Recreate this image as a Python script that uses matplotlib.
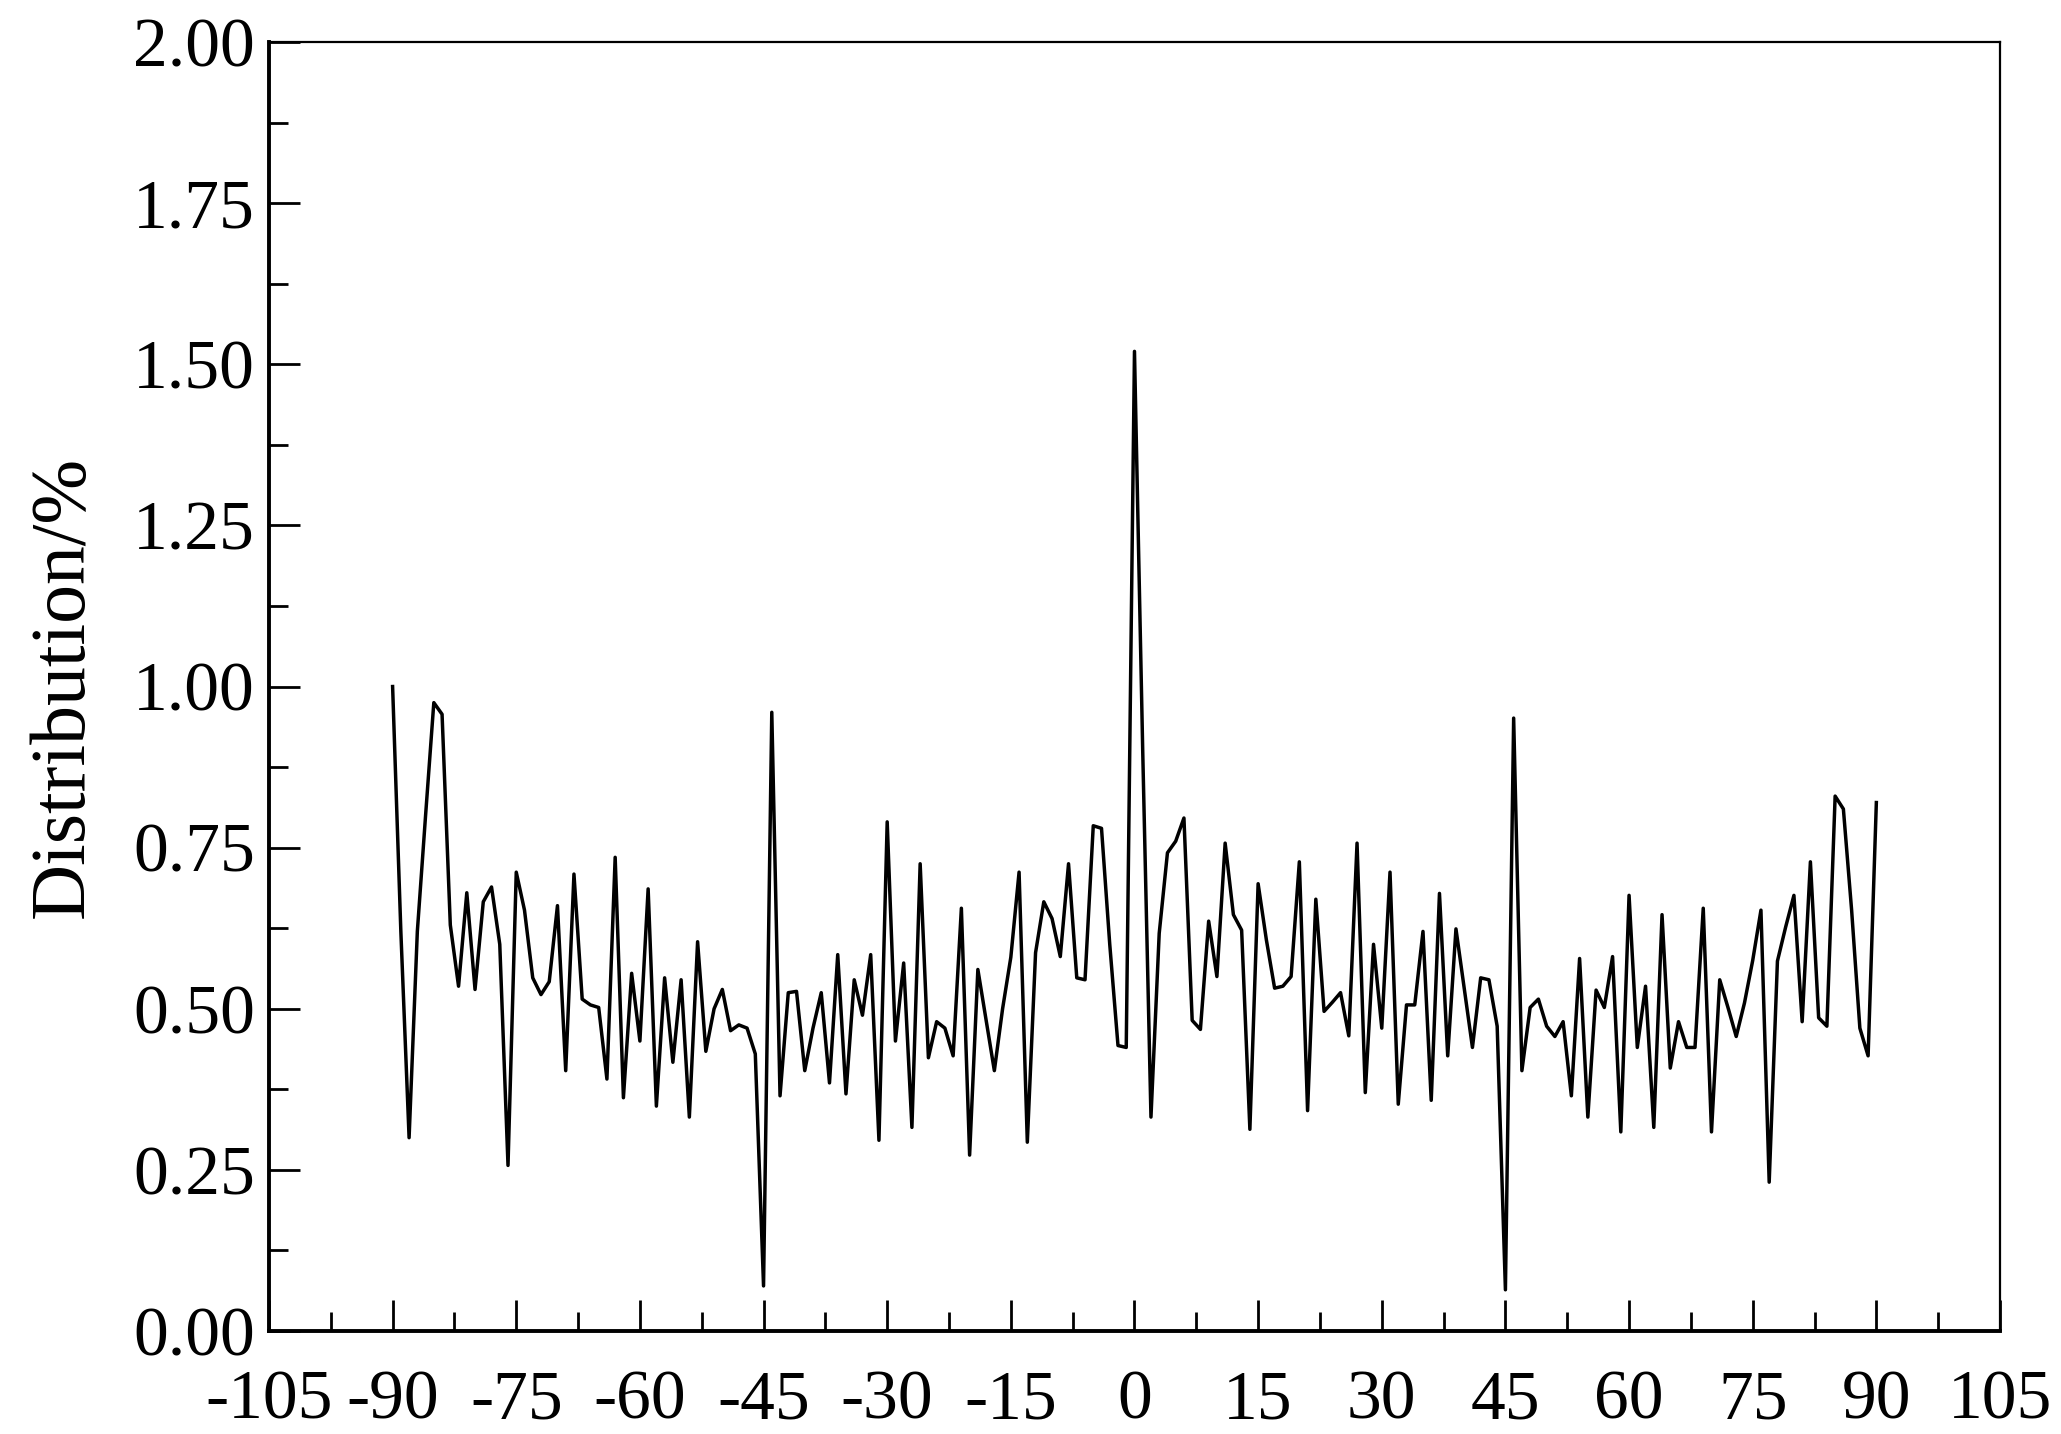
import numpy as np
import matplotlib
matplotlib.use('Agg')
import matplotlib.pyplot as plt
from matplotlib.ticker import MultipleLocator, FormatStrFormatter

# angle bins, one degree apart
angle = np.arange(-90, 91, 1)

# distribution values, -90 .. 90
dist_neg = [
    1.00, 0.62, 0.30, 0.62, 0.80, 0.975, 0.957, 0.63, 0.535, 0.68,   # -90..-81
    0.53, 0.666, 0.689, 0.60, 0.257, 0.712, 0.653, 0.548, 0.522, 0.542,  # -80..-71
    0.66, 0.404, 0.709, 0.515, 0.506, 0.502, 0.391, 0.735, 0.362, 0.555,  # -70..-61
    0.45, 0.686, 0.349, 0.548, 0.417, 0.545, 0.332, 0.604, 0.434, 0.50,   # -60..-51
    0.53, 0.466, 0.475, 0.47, 0.43, 0.07, 0.96, 0.365, 0.525, 0.527,      # -50..-41
    0.404, 0.47, 0.525, 0.385, 0.584, 0.368, 0.545, 0.49, 0.584, 0.296,   # -40..-31
    0.79, 0.45, 0.571, 0.316, 0.725, 0.424, 0.48, 0.47, 0.427, 0.656,     # -30..-21
    0.273, 0.561, 0.483, 0.404, 0.50, 0.58, 0.712, 0.293, 0.587, 0.666,   # -20..-11
    0.64, 0.581, 0.725, 0.548, 0.545, 0.784, 0.78, 0.60, 0.443, 0.44,     # -10..-1
]
dist_zero = [1.52]
dist_pos = [
    0.90, 0.332, 0.617, 0.742, 0.76, 0.796, 0.482, 0.468, 0.636, 0.55,    # 1..10
    0.757, 0.646, 0.622, 0.313, 0.694, 0.607, 0.532, 0.535, 0.55, 0.728,  # 11..20
    0.342, 0.67, 0.496, 0.51, 0.525, 0.458, 0.757, 0.37, 0.60, 0.47,      # 21..30
    0.712, 0.352, 0.506, 0.506, 0.62, 0.358, 0.679, 0.427, 0.624, 0.532,  # 31..40
    0.44, 0.548, 0.545, 0.473, 0.064, 0.951, 0.404, 0.502, 0.515, 0.473,  # 41..50
    0.457, 0.48, 0.365, 0.578, 0.332, 0.529, 0.502, 0.581, 0.309, 0.676,  # 51..60
    0.44, 0.535, 0.316, 0.646, 0.408, 0.48, 0.44, 0.44, 0.656, 0.309,     # 61..70
    0.545, 0.502, 0.457, 0.509, 0.575, 0.653, 0.231, 0.574, 0.627, 0.676, # 71..80
    0.48, 0.728, 0.486, 0.473, 0.83, 0.81, 0.653, 0.47, 0.427, 0.82,      # 81..90
]
distribution = np.array(dist_neg + dist_zero + dist_pos)

x_ticks = np.arange(-105, 106, 15)

plt.rcParams['font.family'] = ['Liberation Serif', 'DejaVu Serif']
plt.rcParams['axes.unicode_minus'] = False

fig = plt.figure(figsize=(20.61, 14.34), dpi=100)
ax = fig.add_axes([0.1305, 0.0718, 0.8399, 0.8989])

ax.plot(angle, distribution, color='black', linewidth=2.5)

ax.set_xlim(-105, 105)
ax.set_ylim(0, 2.0)
ax.set_xticks(x_ticks)
ax.xaxis.set_minor_locator(MultipleLocator(7.5))
ax.yaxis.set_major_locator(MultipleLocator(0.25))
ax.yaxis.set_minor_locator(MultipleLocator(0.125))
ax.yaxis.set_major_formatter(FormatStrFormatter('%.2f'))

ax.tick_params(axis='both', which='major', direction='in', length=22,
               width=2.0, top=False, right=False)
ax.tick_params(axis='both', which='minor', direction='in', length=14,
               width=2.0, top=False, right=False)
ax.tick_params(axis='x', labelsize=50, pad=28)
ax.tick_params(axis='y', labelsize=50, pad=10)

for side in ('left', 'bottom'):
    ax.spines[side].set_linewidth(2.8)
for side in ('top', 'right'):
    ax.spines[side].set_linewidth(1.6)

ax.set_ylabel('Distribution/%', fontsize=56, labelpad=24)

fig.savefig('out.png', dpi=100)
